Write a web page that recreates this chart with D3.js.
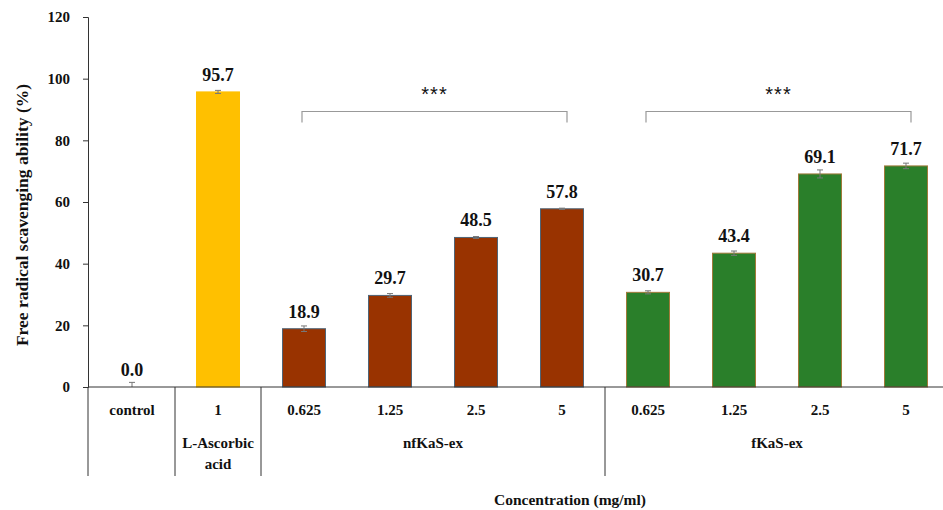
<!DOCTYPE html>
<html>
<head>
<meta charset="utf-8">
<script src="https://cdn.jsdelivr.net/npm/d3@7"></script>
<style>
  html, body { margin: 0; padding: 0; background: #fff; }
  svg text { font-family: "Liberation Serif", "Times New Roman", serif; font-weight: bold; fill: #111; }
</style>
</head>
<body>
<svg id="chart" width="943" height="510"></svg>
<script>
// Concentrations (mg/ml) shown under each bar
const concentrations = ["control", "1", "0.625", "1.25", "2.5", "5", "0.625", "1.25", "2.5", "5"];
// Sample group of each bar
const groups = ["control", "ascorbic", "nf", "nf", "nf", "nf", "f", "f", "f", "f"];
// Mean free radical scavenging ability (%)
const scavenging = [0.0, 95.7, 18.9, 29.7, 48.5, 57.8, 30.7, 43.4, 69.1, 71.7];
// Standard deviations
const errors = [1.5, 0.5, 0.9, 0.6, 0.3, 0.2, 0.5, 0.7, 1.3, 0.9];
// Group labels drawn under the concentration row
const groupLabels = [
  { key: "ascorbic", lines: ["L-Ascorbic", "acid"] },
  { key: "nf", lines: ["nfKaS-ex"] },
  { key: "f", lines: ["fKaS-ex"] }
];
// Significance brackets (first and last bar index)
const brackets = [
  { from: 2, to: 5, label: "***" },
  { from: 6, to: 9, label: "***" }
];
const yTicks = [0, 20, 40, 60, 80, 100, 120];

const fillColor = { control: "#9a9a9a", ascorbic: "#FFC000", nf: "#993300", f: "#2A7F2A" };
const strokeColor = { control: "none", ascorbic: "#FFC000", nf: "#4f6477", f: "#a07a3a" };

const svg = d3.select("#chart");
const idx = d3.range(scavenging.length);

const x = d3.scaleBand().domain(idx).range([89, 949]).paddingInner(0.5).paddingOuter(0.25);
const step = x.step();
const y = d3.scaleLinear().domain([0, 120]).range([387, 17]);
const left = 88, baseY = y(0);

// Bars
svg.append("g").selectAll("rect")
  .data(idx.filter(i => scavenging[i] > 0))
  .join("rect")
  .attr("x", i => x(i))
  .attr("y", i => y(scavenging[i]))
  .attr("width", x.bandwidth())
  .attr("height", i => baseY - y(scavenging[i]))
  .attr("fill", i => fillColor[groups[i]])
  .attr("stroke", i => strokeColor[groups[i]])
  .attr("stroke-width", 1);

// Error bars
const eb = svg.append("g").attr("stroke", "#777").attr("stroke-width", 1);
idx.forEach(i => {
  const cx = x(i) + x.bandwidth() / 2;
  const lo = Math.max(0, scavenging[i] - errors[i]);
  const hi = scavenging[i] + errors[i];
  eb.append("line").attr("x1", cx).attr("x2", cx).attr("y1", y(lo)).attr("y2", y(hi));
  eb.append("line").attr("x1", cx - 3).attr("x2", cx + 3).attr("y1", y(hi)).attr("y2", y(hi));
  if (lo > 0) eb.append("line").attr("x1", cx - 3).attr("x2", cx + 3).attr("y1", y(lo)).attr("y2", y(lo));
});

// Value labels
svg.append("g").selectAll("text")
  .data(idx)
  .join("text")
  .attr("x", i => x(i) + x.bandwidth() / 2)
  .attr("y", i => y(scavenging[i]) - 11)
  .attr("text-anchor", "middle")
  .attr("font-size", 18)
  .text(i => scavenging[i].toFixed(1));

// Y axis
const yAxis = svg.append("g")
  .attr("transform", `translate(${left},0)`)
  .call(d3.axisLeft(y).tickValues(yTicks).tickSize(5).tickPadding(13).tickFormat(d3.format("d")));
yAxis.select(".domain").attr("stroke", "#333");
yAxis.selectAll(".tick line").attr("stroke", "#333");
yAxis.selectAll(".tick text")
  .attr("font-size", 15)
  .attr("font-family", "Liberation Serif, serif")
  .attr("font-weight", "bold")
  .attr("fill", "#111");

// X axis baseline
svg.append("line")
  .attr("x1", left).attr("x2", 943)
  .attr("y1", baseY).attr("y2", baseY)
  .attr("stroke", "#333").attr("stroke-width", 1);

// Category table separators
const sepIdx = [1, 2, 6];
const table = svg.append("g").attr("stroke", "#333").attr("stroke-width", 1);
table.append("line").attr("x1", left).attr("x2", left).attr("y1", baseY).attr("y2", 476);
sepIdx.forEach(k => {
  const sx = x.range()[0] + step * k;
  table.append("line").attr("x1", sx).attr("x2", sx).attr("y1", baseY).attr("y2", 476);
});

// Concentration row
svg.append("g").selectAll("text")
  .data(idx)
  .join("text")
  .attr("x", i => x(i) + x.bandwidth() / 2)
  .attr("y", 415)
  .attr("text-anchor", "middle")
  .attr("font-size", 15)
  .text(i => concentrations[i]);

// Group labels
groupLabels.forEach(g => {
  const members = idx.filter(i => groups[i] === g.key);
  const x0 = x.range()[0] + step * d3.min(members);
  const x1 = x.range()[0] + step * (d3.max(members) + 1);
  const t = svg.append("text")
    .attr("x", (x0 + x1) / 2)
    .attr("y", 448)
    .attr("text-anchor", "middle")
    .attr("font-size", 15);
  g.lines.forEach((ln, j) => {
    t.append("tspan").attr("x", (x0 + x1) / 2).attr("dy", j === 0 ? 0 : 21).text(ln);
  });
});

// Significance brackets
const br = svg.append("g");
brackets.forEach(b => {
  const bx0 = x(b.from) + x.bandwidth() / 2 - 2;
  const bx1 = x(b.to) + x.bandwidth() / 2 + 5;
  const by = 111.5;
  br.append("path")
    .attr("d", `M${bx0},${by + 11}V${by}H${bx1}V${by + 11}`)
    .attr("fill", "none").attr("stroke", "#999").attr("stroke-width", 1.2);
  br.append("text")
    .attr("x", (bx0 + bx1) / 2)
    .attr("y", 101)
    .attr("text-anchor", "middle")
    .attr("font-size", 20)
    .style("font-family", "Liberation Sans, Arial, sans-serif")
    .style("font-weight", "normal")
    .attr("letter-spacing", 1)
    .text(b.label);
});

// Axis titles
svg.append("text")
  .attr("transform", "translate(28,215) rotate(-90)")
  .attr("text-anchor", "middle")
  .attr("font-size", 17.5)
  .text("Free radical scavenging ability (%)");

svg.append("text")
  .attr("x", 570)
  .attr("y", 505)
  .attr("text-anchor", "middle")
  .attr("font-size", 15.5)
  .text("Concentration (mg/ml)");
</script>
</body>
</html>
